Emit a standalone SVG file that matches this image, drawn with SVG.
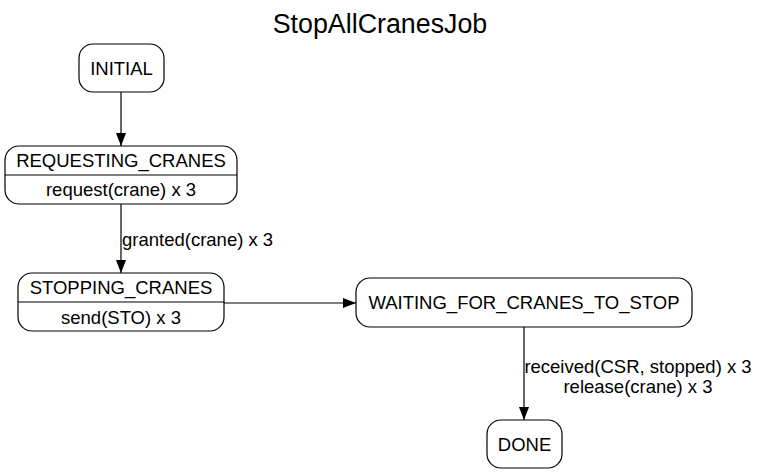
<svg xmlns="http://www.w3.org/2000/svg" width="759" height="475" viewBox="0 0 759 475">
<style>
text{font-family:"Liberation Sans",Arial,sans-serif;fill:#000}
.t{font-size:18.5px;text-anchor:middle}
.n{fill:#fff;stroke:#000;stroke-width:1.2}
.e{stroke:#000;stroke-width:1.2;fill:none}
</style>
<defs>
<marker id="ah" viewBox="0 0 13 10" refX="13" refY="5" markerWidth="13" markerHeight="10" markerUnits="userSpaceOnUse" orient="auto">
<path d="M0,0 L13,5 L0,10 z" fill="#000"/>
</marker>
</defs>
<rect width="759" height="475" fill="#fff"/>
<text x="380" y="33" font-size="26.8" text-anchor="middle">StopAllCranesJob</text>
<g id="connectors">
<line class="e" x1="121" y1="92" x2="121" y2="146" marker-end="url(#ah)"/>
<line class="e" x1="121" y1="204" x2="121" y2="273" marker-end="url(#ah)"/>
<text x="122" y="246" font-size="18.5">granted(crane) x 3</text>
<line class="e" x1="224" y1="303" x2="356" y2="303" marker-end="url(#ah)"/>
<line class="e" x1="524" y1="327" x2="524" y2="420" marker-end="url(#ah)"/>
<text x="638" y="373" class="t">received(CSR, stopped) x 3</text>
<text x="638" y="393" class="t">release(crane) x 3</text>
</g>
<g id="INITIAL">
<rect class="n" x="79" y="44" width="85" height="48" rx="14"/>
<text class="t" x="121.5" y="75">INITIAL</text>
</g>
<g id="REQUESTING_CRANES">
<rect class="n" x="5" y="146" width="232" height="58" rx="14"/>
<line class="e" x1="5" y1="175" x2="237" y2="175"/>
<text class="t" x="121" y="167">REQUESTING_CRANES</text>
<text class="t" x="121" y="196">request(crane) x 3</text>
</g>
<g id="STOPPING_CRANES">
<rect class="n" x="18" y="273" width="206" height="58" rx="14"/>
<line class="e" x1="18" y1="302" x2="224" y2="302"/>
<text class="t" x="121" y="294">STOPPING_CRANES</text>
<text class="t" x="121" y="324">send(STO) x 3</text>
</g>
<g id="WAITING_FOR_CRANES_TO_STOP">
<rect class="n" x="356" y="278" width="336" height="49" rx="14"/>
<text class="t" x="524" y="309">WAITING_FOR_CRANES_TO_STOP</text>
</g>
<g id="DONE">
<rect class="n" x="487" y="420" width="75" height="48" rx="14"/>
<text class="t" x="524.5" y="451">DONE</text>
</g>
</svg>
